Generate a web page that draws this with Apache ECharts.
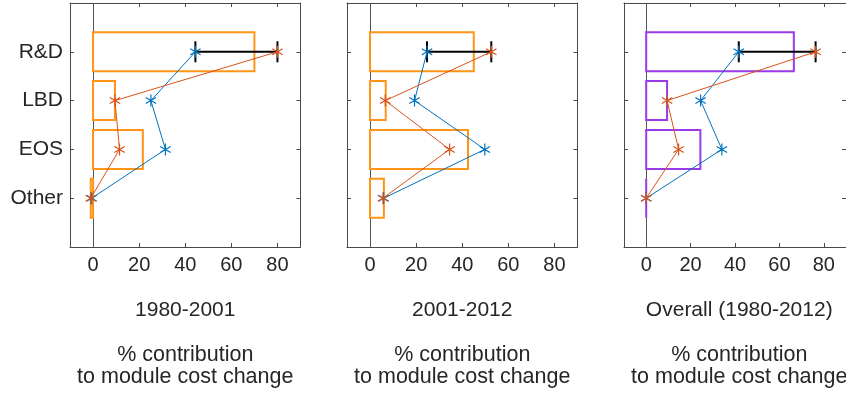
<!DOCTYPE html>
<html>
<head>
<meta charset="utf-8">
<script src="https://cdn.jsdelivr.net/npm/echarts@6/dist/echarts.min.js"></script>
<style>
  html, body { margin: 0; padding: 0; background: #fff; }
  #main { width: 846px; height: 394px; }
</style>
</head>
<body>
<div id="main"></div>
<script>
// categories from top to bottom, placed at y = 4,3,2,1
const categories = ["R&D", "LBD", "EOS", "Other"];
const catPos = [4, 3, 2, 1];
const xTicks = [0, 20, 40, 60, 80];
const panelTitles = ["1980-2001", "2001-2012", "Overall (1980-2012)"];

// bar values (% contribution)
const bars1 = [70, 9.5, 21.6, -1];
const bars2 = [45, 6.8, 42.5, 6];
const bars3 = [66.5, 9.4, 24.4, 0];
// blue line
const blue1 = [44.4, 25.1, 31.4, -0.6];
const blue2 = [24.7, 19.3, 49.8, 5.9];
const blue3 = [41.7, 24.5, 34.1, 0];
// red/orange line
const red1 = [80, 9.5, 11.5, -1];
const red2 = [52.6, 6.6, 34.5, 5.6];
const red3 = [76.3, 9.4, 14.6, 0];

const barColors = ["#ff9416", "#ff9416", "#9b3be8"];
const BLUE = "#0072bd", RED = "#d95319", AXIS = "#4a4a4a", TXT = "#262626";
const FONT = "Liberation Sans, Arial, sans-serif";
const star = "path://M5 0L5 10M0.67 2.5L9.33 7.5M0.67 7.5L9.33 2.5";

const panels = [
  { bars: bars1, blue: blue1, red: red1, left: 70 },
  { bars: bars2, blue: blue2, red: red2, left: 347 },
  { bars: bars3, blue: blue3, red: red3, left: 624 }
];
const GW = 230.5, GTOP = 3, GH = 244;

const pairs = (vals) => vals.map((v, i) => [v, catPos[i]]);

function tickAxis(k, pos, isX, labels) {
  const ax = {
    gridIndex: k, type: "value", position: pos,
    min: isX ? -10 : 0, max: isX ? 90 : 5,
    splitLine: { show: false },
    axisLine: { show: true, onZero: false, lineStyle: { color: AXIS } },
    axisTick: { show: true, inside: true, length: 4, customValues: isX ? xTicks : catPos,
      lineStyle: { color: AXIS } },
    axisLabel: { show: false }
  };
  if (labels) ax.axisLabel = labels;
  return ax;
}

let grids = [], xAxes = [], yAxes = [], series = [], graphics = [];
panels.forEach((p, k) => {
  grids.push({ left: p.left, top: GTOP, width: GW, height: GH, show: false });
  xAxes.push(tickAxis(k, "bottom", true, { customValues: xTicks, color: TXT, fontSize: 20,
    fontFamily: FONT, margin: 8 }));
  xAxes.push(tickAxis(k, "top", true));
  yAxes.push(tickAxis(k, "left", false, { show: k === 0, customValues: catPos, color: TXT,
    fontSize: 21, fontFamily: FONT, margin: 7,
    formatter: (v) => categories[catPos.indexOf(v)] || "" }));
  yAxes.push(tickAxis(k, "right", false));

  const xi = k * 2, yi = k * 2;
  // zero reference line (kept below the bars)
  series.push({
    type: "line", xAxisIndex: xi, yAxisIndex: yi, data: [], z: 1,
    markLine: { z: 1, silent: true, symbol: "none", label: { show: false }, animation: false,
      lineStyle: { color: "#555", width: 1, type: "solid" }, data: [{ xAxis: 0 }] }
  });
  // outline bars (polygon so zero-length bars still show their edge)
  series.push({
    type: "custom", xAxisIndex: xi, yAxisIndex: yi, data: pairs(p.bars), z: 2,
    renderItem: (params, api) => {
      const v = api.value(0), y = api.value(1);
      const a = api.coord([0, y + 0.4]), b = api.coord([v, y - 0.4]);
      return { type: "polygon",
        shape: { points: [[a[0], a[1]], [b[0], a[1]], [b[0], b[1]], [a[0], b[1]]] },
        style: { fill: "none", stroke: barColors[k], lineWidth: 2 } };
    }
  });
  // black error bar between blue and red R&D points
  series.push({
    type: "custom", xAxisIndex: xi, yAxisIndex: yi, z: 3,
    data: [[p.blue[0], p.red[0], catPos[0]]],
    renderItem: (params, api) => {
      const a = api.coord([api.value(0), api.value(2)]);
      const b = api.coord([api.value(1), api.value(2)]);
      const st = { stroke: "#000", lineWidth: 2 };
      return { type: "group", children: [
        { type: "line", shape: { x1: a[0], y1: a[1], x2: b[0], y2: b[1] }, style: st },
        { type: "line", shape: { x1: a[0], y1: a[1] - 10.5, x2: a[0], y2: a[1] + 10.5 }, style: st },
        { type: "line", shape: { x1: b[0], y1: b[1] - 10.5, x2: b[0], y2: b[1] + 10.5 }, style: st }
      ] };
    }
  });
  [[p.blue, BLUE], [p.red, RED]].forEach(([vals, c]) => {
    series.push({
      type: "line", xAxisIndex: xi, yAxisIndex: yi, data: pairs(vals), z: 4,
      symbol: star, symbolSize: 12, symbolKeepAspect: true, showAllSymbol: true,
      lineStyle: { color: c, width: 1 },
      itemStyle: { color: c, borderColor: c, borderWidth: 1.2 },
      emphasis: { disabled: true }, animation: false
    });
  });

  const cx = p.left + GW / 2;
  graphics.push({ type: "text", x: cx, y: 310, style: { text: panelTitles[k],
    align: "center", verticalAlign: "middle", font: "21px " + FONT, fill: TXT } });
  graphics.push({ type: "text", x: cx, y: 366, style: { text: "% contribution\nto module cost change",
    align: "center", verticalAlign: "middle", font: "21.5px " + FONT, lineHeight: 22, fill: TXT } });
});

const chart = echarts.init(document.getElementById("main"), null, { renderer: "canvas" });
chart.setOption({
  animation: false,
  grid: grids,
  xAxis: xAxes,
  yAxis: yAxes,
  series: series,
  graphic: graphics
});
window.addEventListener("resize", chart.resize);
</script>
</body>
</html>
